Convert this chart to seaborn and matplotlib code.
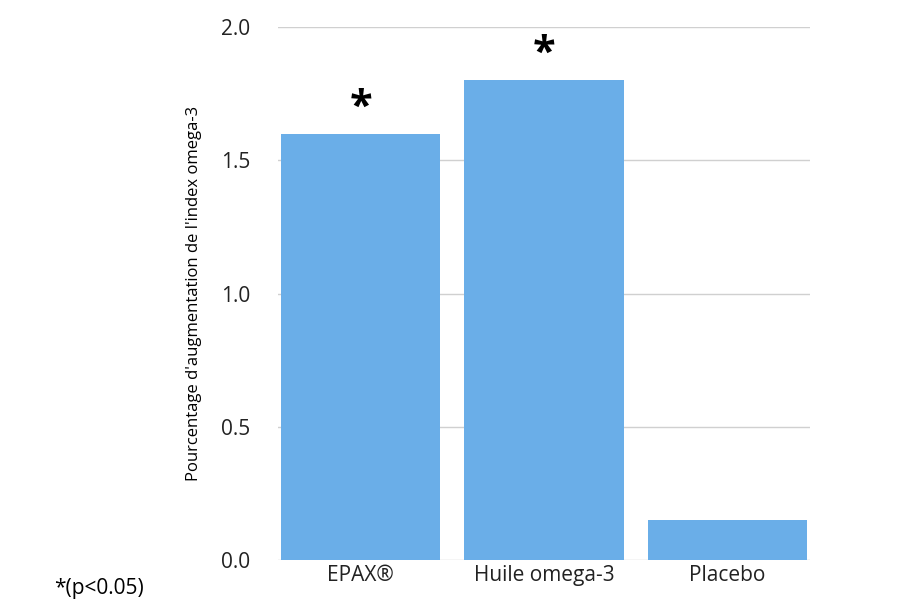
import seaborn as sns
import matplotlib.pyplot as plt

categories = ["EPAX®", "Huile omega-3", "Placebo"]
values = [1.6, 1.8, 0.15]
significant = [True, True, False]
yticks = [0.0, 0.5, 1.0, 1.5, 2.0]

plt.rcParams["font.family"] = "Open Sans"
fig = plt.figure(figsize=(9, 6.16), dpi=100)
ax = fig.add_axes([0.309, 0.091, 0.591, 0.865])

sns.barplot(x=categories, y=values, color="#6aaee8", saturation=1, width=0.87, ax=ax, zorder=3)
ax.set_xlim(-0.45, 2.45)
ax.set_ylim(0, 2.0)
ax.set_yticks(yticks)
ax.set_yticklabels([f"{t:.1f}" for t in yticks])
ax.yaxis.grid(True, color="#d0d0d0", linewidth=1, zorder=0)
for s in ax.spines.values():
    s.set_visible(False)
ax.tick_params(length=0, labelsize=15, colors="#222222")
ax.tick_params(axis="y", pad=20)
ax.set_ylabel("Pourcentage d'augmentation de l'index omega-3", fontsize=12, labelpad=14)

for i, (v, sig) in enumerate(zip(values, significant)):
    if sig:
        ax.text(i, v + 0.02, "*", ha="center", va="bottom", fontsize=30, fontweight="bold")

fig.text(0.06, 0.045, "*(p<0.05)", fontsize=15, ha="left", va="center")
fig.savefig("out.png")
